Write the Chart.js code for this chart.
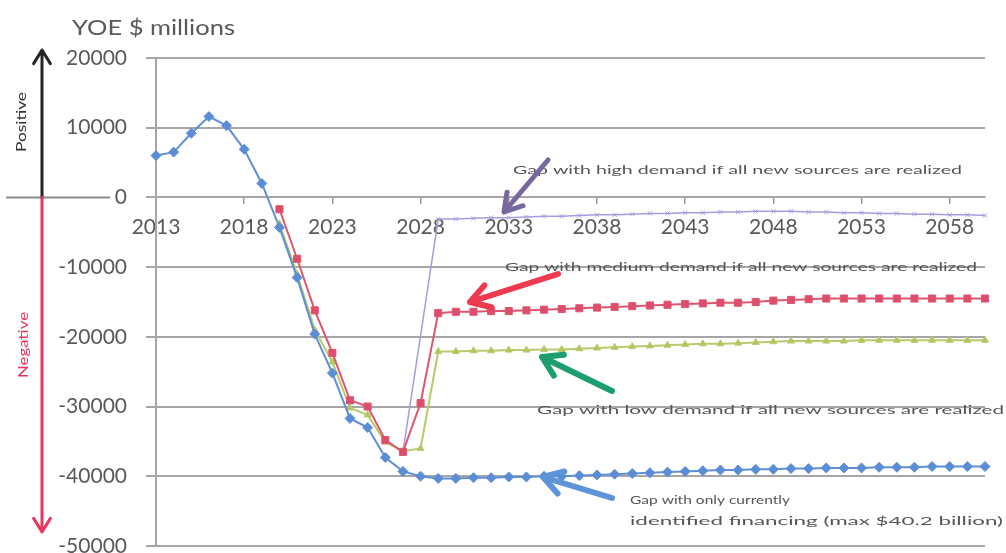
<!DOCTYPE html>
<html>
<head>
<meta charset="utf-8">
<script src="https://cdn.jsdelivr.net/npm/chart.js@4.4.0/dist/chart.umd.min.js"></script>
<style>
  html, body { margin: 0; padding: 0; background: #fff; }
  #wrap { width: 1006px; height: 553px; position: relative; }
</style>
</head>
<body>
<div id="wrap"><canvas id="grafico"></canvas></div>
<script>
// Anos (eixo x)
const anos = ["2013","2014","2015","2016","2017","2018","2019","2020","2021","2022",
  "2023","2024","2025","2026","2027","2028","2029","2030","2031","2032",
  "2033","2034","2035","2036","2037","2038","2039","2040","2041","2042",
  "2043","2044","2045","2046","2047","2048","2049","2050","2051","2052",
  "2053","2054","2055","2056","2057","2058","2059","2060"];
const anosVisiveis = ["2013","2018","2023","2028","2033","2038","2043","2048","2053","2058"];

// Gap com financiamento identificado (azul)
const gapIdentificado = [6000, 6500, 9200, 11600, 10300, 6900, 2000, -4300, -11500, -19600,
  -25200, -31700, -33000, -37300, -39300, -40000, -40300,
  -40300, -40200, -40200, -40100, -40100, -40000, -40000, -39900, -39800, -39700,
  -39600, -39500, -39400, -39300, -39200, -39100, -39100, -39000, -39000, -38900,
  -38900, -38800, -38800, -38800, -38700, -38700, -38700, -38600, -38600, -38600, -38600];

// Demanda media (vermelho)
const gapMedia = [null, null, null, null, null, null, null,
  -1700, -8800, -16200, -22300, -29100, -30000, -34800, -36500, -29500, -16600,
  -16400, -16400, -16300, -16300, -16200, -16100, -16000, -15900, -15800, -15700,
  -15600, -15500, -15400, -15300, -15200, -15100, -15100, -15000, -14800, -14700,
  -14600, -14500, -14500, -14500, -14500, -14500, -14500, -14500, -14500, -14500, -14500];

// Demanda baixa (verde)
const gapBaixa = [null, null, null, null, null, null, null,
  -3800, -11000, -19000, -23600, -30200, -31200, -35100, -36400, -36000, -22100,
  -22100, -22000, -22000, -21900, -21900, -21800, -21800, -21700, -21600, -21500,
  -21400, -21300, -21200, -21100, -21000, -21000, -20900, -20800, -20700, -20600,
  -20600, -20600, -20600, -20500, -20500, -20500, -20500, -20500, -20500, -20500, -20500];

// Demanda alta (roxo)
const gapAlta = [null, null, null, null, null, null, null, null, null, null,
  null, null, null, null, -36500, null, -3100,
  -3100, -3000, -2900, -2900, -2800, -2700, -2700, -2600, -2500, -2500,
  -2400, -2300, -2300, -2200, -2200, -2100, -2100, -2000, -2000, -2000,
  -2100, -2100, -2200, -2200, -2300, -2300, -2400, -2400, -2500, -2500, -2600];

const yMin = -50000, yMax = 20000, yPasso = 10000;

const corTexto = "#595959";
const fonte = "Lato, 'Open Sans', sans-serif";

// texto esticado para caber numa largura
function textoAjustado(ctx, texto, x, y, largura, font, cor) {
  ctx.save();
  ctx.font = font;
  const w = ctx.measureText(texto).width;
  ctx.translate(x, y);
  ctx.scale(largura / w, 1);
  ctx.fillStyle = cor;
  ctx.textBaseline = "middle";
  ctx.textAlign = "left";
  ctx.fillText(texto, 0, 0);
  ctx.restore();
}

function seta(ctx, x1, y1, x2, y2, cor, espessura, cabeca) {
  const ang = Math.atan2(y2 - y1, x2 - x1);
  ctx.save();
  ctx.strokeStyle = cor;
  ctx.lineWidth = espessura;
  ctx.lineCap = "round";
  ctx.lineJoin = "round";
  ctx.beginPath();
  ctx.moveTo(x1, y1);
  ctx.lineTo(x2, y2);
  ctx.moveTo(x2 - cabeca * Math.cos(ang - 0.55), y2 - cabeca * Math.sin(ang - 0.55));
  ctx.lineTo(x2, y2);
  ctx.lineTo(x2 - cabeca * Math.cos(ang + 0.55), y2 - cabeca * Math.sin(ang + 0.55));
  ctx.stroke();
  ctx.restore();
}

// texto girado, esticado ao comprimento dado
function textoVertical(ctx, texto, x, y, comprimento, font, cor) {
  ctx.save();
  ctx.font = font;
  const w = ctx.measureText(texto).width;
  ctx.translate(x, y);
  ctx.rotate(-Math.PI / 2);
  ctx.scale(comprimento / w, 1);
  ctx.fillStyle = cor;
  ctx.textAlign = "center";
  ctx.textBaseline = "middle";
  ctx.fillText(texto, 0, 0);
  ctx.restore();
}

// Anotacoes desenhadas por cima
const anotacoes = {
  id: "anotacoes",
  afterDraw(chart) {
    const ctx = chart.ctx;
    const y0 = chart.scales.y.getPixelForValue(0);

    // titulo do eixo
    textoAjustado(ctx, "YOE $ millions", 72, 28, 163, "21px " + fonte, corTexto);

    // linha do zero a esquerda
    ctx.save();
    ctx.strokeStyle = "#8c8c8c";
    ctx.lineWidth = 2;
    ctx.beginPath();
    ctx.moveTo(6, y0);
    ctx.lineTo(110, y0);
    ctx.stroke();
    ctx.restore();

    // setas positivo / negativo
    seta(ctx, 42, y0, 42, 50, "#262626", 3, 16);
    seta(ctx, 42, y0, 42, 532, "#e8365d", 3, 16);
    textoVertical(ctx, "Positive", 22, 122, 60, "13px " + fonte, "#333");
    textoVertical(ctx, "Negative", 24, 345, 66, "13px " + fonte, "#e8365d");

    // chamadas
    const f = "12px " + fonte;
    const ct = "#555";
    textoAjustado(ctx, "Gap with high demand if all new sources are realized", 513, 170, 449, f, ct);
    textoAjustado(ctx, "Gap with medium demand if all new sources are realized", 505, 267, 472, f, ct);
    textoAjustado(ctx, "Gap with low demand if all new sources are realized", 537, 410, 467, f, ct);
    textoAjustado(ctx, "Gap with only currently", 630, 500, 160, f, ct);
    textoAjustado(ctx, "identified financing (max $40.2 billion)", 630, 521, 373, f, ct);

    seta(ctx, 548, 160, 504, 212, "#76679e", 5, 20);
    seta(ctx, 558, 274, 470, 302, "#ee3a4f", 6, 22);
    seta(ctx, 612, 391, 542, 357, "#1c9f6c", 6, 22);
    seta(ctx, 612, 498, 543, 477, "#5d93d8", 6, 22);
  }
};

const ctx = document.getElementById("grafico").getContext("2d");
new Chart(ctx, {
  type: "line",
  data: {
    labels: anos,
    datasets: [
      {
        label: "Gap with only currently identified financing",
        data: gapIdentificado,
        borderColor: "#5f8fd6",
        backgroundColor: "#5b8cd6",
        borderWidth: 2,
        pointStyle: "rectRot",
        pointRadius: 5,
        pointBorderWidth: 1,
        tension: 0
      },
      {
        label: "Gap with medium demand",
        data: gapMedia,
        borderColor: "#dc5670",
        backgroundColor: "#de4d6b",
        borderWidth: 2,
        pointStyle: "rect",
        pointRadius: 5,
        pointBorderWidth: 1,
        tension: 0
      },
      {
        label: "Gap with low demand",
        data: gapBaixa,
        borderColor: "#b7cb6a",
        backgroundColor: "#b0c660",
        borderWidth: 2,
        pointStyle: "triangle",
        pointRadius: 4,
        pointBorderWidth: 1,
        tension: 0
      },
      {
        label: "Gap with high demand",
        data: gapAlta,
        borderColor: "#a79be0",
        backgroundColor: "#a79be0",
        borderWidth: 1.5,
        pointStyle: "crossRot",
        pointRadius: c => (c.dataIndex < 16 ? 0 : 3),
        pointBorderWidth: 1,
        spanGaps: true,
        tension: 0
      }
    ]
  },
  options: {
    responsive: true,
    maintainAspectRatio: false,
    animation: false,
    layout: { padding: { top: 58, right: 21, bottom: 7, left: 0 } },
    plugins: {
      legend: { display: false },
      tooltip: { enabled: false }
    },
    scales: {
      x: {
        position: { y: 0 },
        offset: false,
        afterFit(s) { s.height = 0; },
        grid: {
          drawOnChartArea: false,
          tickLength: 6,
          lineWidth: 1.5,
          color: c => (c.tick && anosVisiveis.includes(anos[c.index]) ? "#9a9a9a" : "rgba(0,0,0,0)")
        },
        border: { display: true, color: "#a6a6a6", width: 2 },
        ticks: {
          autoSkip: false,
          maxRotation: 0,
          padding: 11,
          color: corTexto,
          font: { family: fonte, size: 21 },
          callback: function (v, i) {
            const lab = anos[i];
            return anosVisiveis.includes(lab) ? lab : "";
          }
        }
      },
      y: {
        min: yMin,
        max: yMax,
        afterFit(s) {
          s.width = 156;
          s.paddingTop = 0;
          s.paddingBottom = 0;
        },
        grid: { color: "#a6a6a6", lineWidth: 2, tickLength: 10 },
        border: { display: true, color: "#a6a6a6", width: 2 },
        ticks: {
          stepSize: yPasso,
          padding: 19,
          color: corTexto,
          font: { family: fonte, size: 21 },
          callback: v => String(v)
        }
      }
    }
  },
  plugins: [anotacoes]
});
</script>
</body>
</html>
